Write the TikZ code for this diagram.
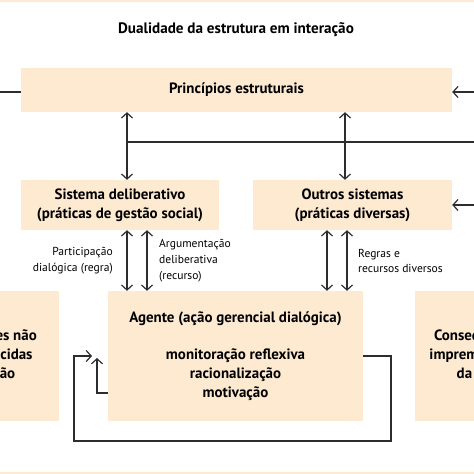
\documentclass[tikz,border=0pt]{standalone}
\usepackage{fontspec}
\setmainfont{PT Sans}
\usetikzlibrary{positioning, arrows.meta}
\definecolor{peach}{RGB}{253,234,208}
\definecolor{linegray}{RGB}{45,45,45}

\begin{document}
\begin{tikzpicture}[x=1bp, y=-1bp,
		% Define styles for the nodes
		box/.style={
			rectangle, fill=peach, inner sep=0pt, text centered, align=center,
			font=\fontsize{15}{19}\selectfont\bfseries
		},
		lbl/.style={
			inner sep=0pt, font=\fontsize{11.6}{16}\selectfont
		},
		link/.style={line width=1.2bp, draw=linegray},
		arr/.style={link, -{Straight Barb[length=5bp,width=11bp]}},
		dbl/.style={link, {Straight Barb[length=5bp,width=11bp]}-{Straight Barb[length=5bp,width=11bp]}}
		]
		
		\useasboundingbox (0,0) rectangle (474,474);
		\clip (0,0) rectangle (474,474);
		
		% Strips of the neighbouring boxes
		\fill[peach] (0,0) rectangle (474,2);
		\fill[peach] (0,472) rectangle (474,474);
		
		% Title
		\node[font=\fontsize{15.2}{18}\selectfont\bfseries] (title) at (236,30) {Dualidade da estrutura em interação};
		
		% Define the boxes
		\node[box, minimum width=431bp, minimum height=44bp] (principios) at (236.5,90) {Princípios estruturais};
		\node[box, minimum width=198bp, minimum height=50bp] (sistema) at (120,205) {Sistema deliberativo \\ (práticas de gestão social)};
		\node[box, minimum width=199bp, minimum height=50bp] (outros) at (352.5,205) {Outros sistemas \\ (práticas diversas)};
		\node[box, minimum width=255bp, minimum height=130bp] (agente) at (235.5,356) {
			Agente (ação gerencial dialógica) \\[18bp]
			monitoração reflexiva \\
			racionalização \\
			motivação
		};
		\node[box, minimum width=136bp, minimum height=130bp] (condicoes) at (-9,356) {Condições não \\ reconhecidas \\ da ação};
		\node[box, minimum width=132bp, minimum height=130bp] (consequencias) at (481,356) {Consequências \\ impremeditadas \\ da ação};
		
		% Free ends at the border
		\coordinate (inprinc) at (0,92);
		\coordinate (outprinc) at (474,92);
		\coordinate (outmid) at (474,142);
		\coordinate (outoutros) at (474,205);
		
		% Connections to the structural principles
		\draw[link] (inprinc) -- (inprinc -| principios.west);
		\draw[arr] (outprinc) -- (outprinc -| principios.east);
		\draw[dbl] (principios.south -| 127,0) -- (sistema.north -| 127,0);
		\draw[dbl] (principios.south -| 345,0) -- (outros.north -| 345,0);
		\draw[link] (outmid) -- (127,142);
		\draw[arr] (outoutros) -- (outros.east);
		
		% Connections between the systems and the agent
		\draw[dbl] (sistema.south -| 127,0) -- (agente.north -| 127,0);
		\draw[dbl] (sistema.south -| 147,0) -- (agente.north -| 147,0);
		\draw[dbl] (outros.south -| 327,0) -- (agente.north -| 327,0);
		\draw[dbl] (outros.south -| 347,0) -- (agente.north -| 347,0);
		
		\coordinate (partic) at (127,261);
		\coordinate (argum) at (147,261);
		\coordinate (regras) at (347,261);
		\node[lbl, align=right, left=14bp of partic] (lparticip) {Participação \\ dialógica (regra)};
		\node[lbl, align=left, right=12bp of argum] (largum) {Argumentação \\ deliberativa \\ (recurso)};
		\node[lbl, align=left, right=11bp of regras] (lregras) {Regras e \\ recursos diversos};
		
		% Feedback loops of the agent
		\coordinate (loopin) at (92,356);
		\coordinate (upin) at (97,358);
		\draw[arr] (agente.east) -- (391,356) -- (391,441) -- (74,441) -- (74,356) -- (loopin);
		\draw[arr] (agente.west |- 0,393) -- (97,393) -- (upin);
		
	\end{tikzpicture}
\end{document}
